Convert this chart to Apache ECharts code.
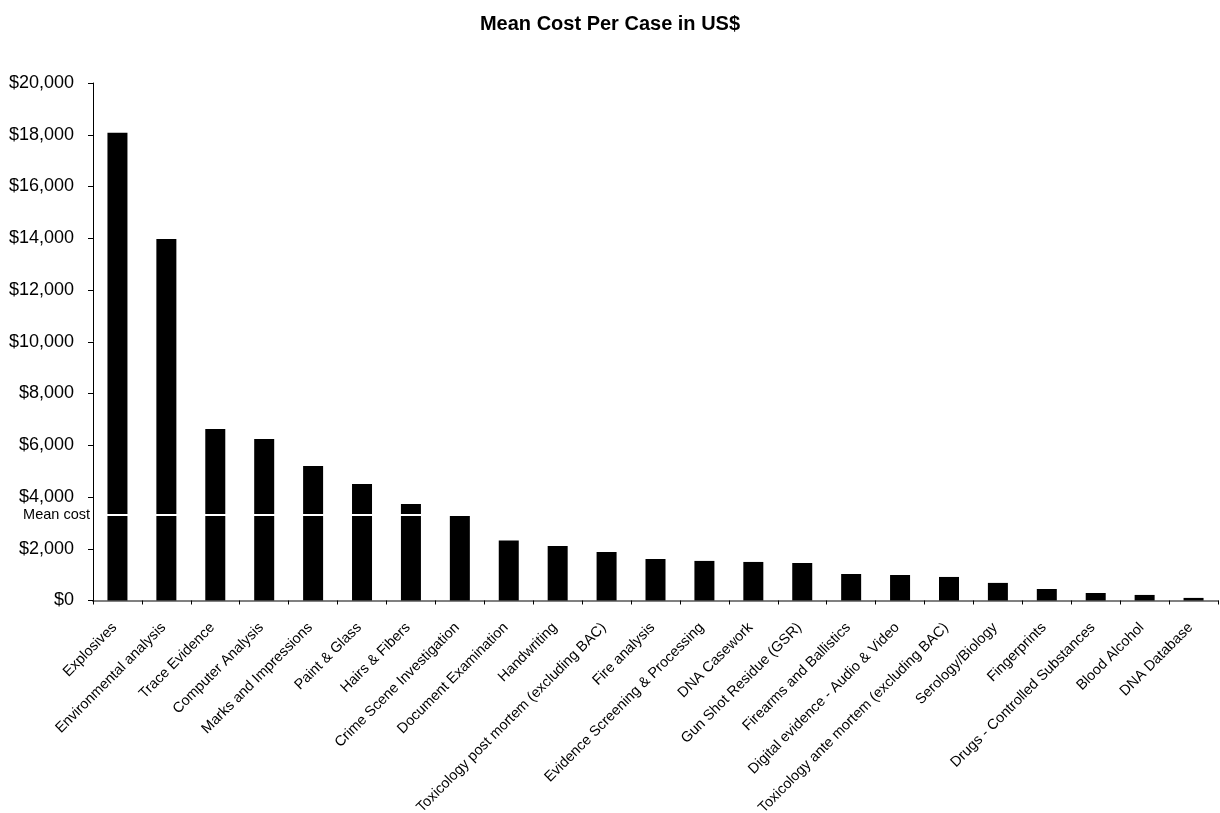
<!DOCTYPE html>
<html>
<head>
<meta charset="utf-8">
<script src="https://cdn.jsdelivr.net/npm/echarts@6/dist/echarts.min.js"></script>
<style>
html,body{margin:0;padding:0;background:#fff;}
#chart{width:1220px;height:813px;}
</style>
</head>
<body>
<div id="chart"></div>
<script>
const titleText = 'Mean Cost Per Case in US$';
const categories = [
  'Explosives', 'Environmental analysis', 'Trace Evidence', 'Computer Analysis',
  'Marks and Impressions', 'Paint & Glass', 'Hairs & Fibers', 'Crime Scene Investigation',
  'Document Examination', 'Handwriting', 'Toxicology post mortem (excluding BAC)',
  'Fire analysis', 'Evidence Screening & Processing', 'DNA Casework',
  'Gun Shot Residue (GSR)', 'Firearms and Ballistics', 'Digital evidence - Audio & Video',
  'Toxicology ante mortem (excluding BAC)', 'Serology/Biology', 'Fingerprints',
  'Drugs - Controlled Substances', 'Blood Alcohol', 'DNA Database'
];
const meanCostPerCase = [
  18080, 13970, 6630, 6240, 5200, 4500, 3725, 3265,
  2315, 2110, 1875, 1605, 1530, 1490, 1450, 1025,
  985, 910, 680, 445, 290, 215, 100
];
const meanCost = 3310;
const meanLabel = 'Mean cost';
const yMin = 0, yMax = 20000, yStep = 2000;

const font = 'Liberation Sans, Arial, sans-serif';
const chart = echarts.init(document.getElementById('chart'));
chart.setOption({
  backgroundColor: '#ffffff',
  animation: false,
  title: {
    text: titleText, left: 'center', top: 9,
    textStyle: { fontFamily: font, fontSize: 20, fontWeight: 'bold', color: '#000' }
  },
  grid: { left: 93, right: 2, top: 83, bottom: 212.5, containLabel: false, outerBoundsMode: 'none' },
  xAxis: {
    type: 'category', data: categories,
    axisLine: { lineStyle: { color: '#808080', width: 2 } },
    axisTick: { show: true, length: 4, lineStyle: { color: '#000', width: 1 } },
    axisLabel: {
      rotate: 45, interval: 0, fontFamily: font, fontSize: 14.5, color: '#000', margin: 22,
      padding: [0, 4, 8, 0]
    }
  },
  yAxis: {
    type: 'value', min: yMin, max: yMax, interval: yStep, z: 5,
    axisLine: { show: true, lineStyle: { color: '#000', width: 1 } },
    axisTick: { show: true, length: 5, lineStyle: { color: '#000' } },
    splitLine: { show: false },
    axisLabel: {
      fontFamily: font, fontSize: 18, color: '#000', margin: 19,
      formatter: v => '$' + v.toLocaleString('en-US')
    }
  },
  series: [{
    type: 'bar', data: meanCostPerCase, barWidth: 20,
    itemStyle: { color: '#000' },
    markLine: {
      silent: true, symbol: ['none', 'none'],
      lineStyle: { color: '#ffffff', width: 2, type: 'solid' },
      label: {
        show: true, position: 'start', formatter: meanLabel, distance: 3,
        fontFamily: font, fontSize: 14.5, color: '#000'
      },
      data: [{ yAxis: meanCost }]
    }
  }]
});
</script>
</body>
</html>
